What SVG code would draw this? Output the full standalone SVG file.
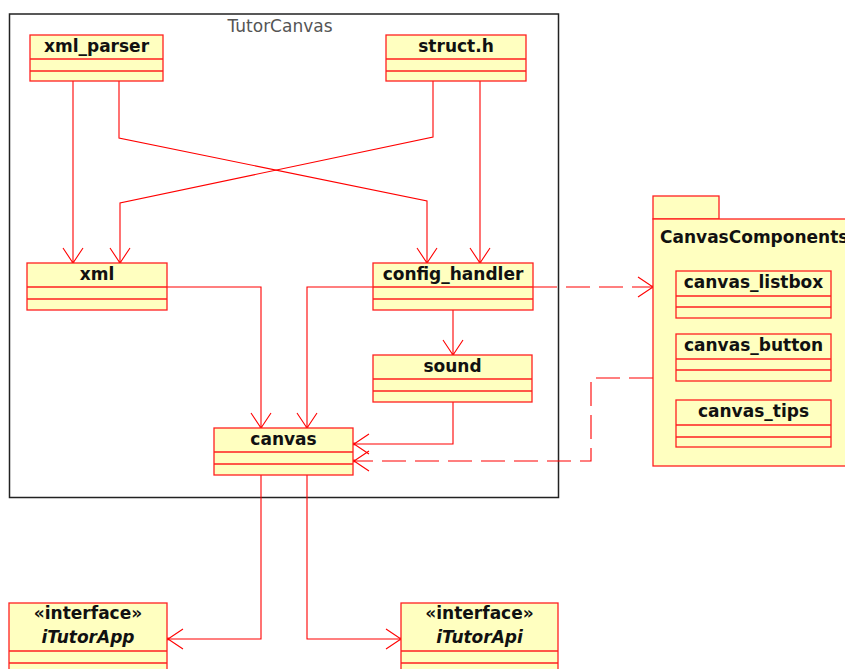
<svg xmlns="http://www.w3.org/2000/svg" width="845" height="669" viewBox="0 0 845 669">
  <style>
    .box { fill: #ffffc0; stroke: #ff2020; stroke-width: 1.3; }
    .sep { stroke: #ff2020; stroke-width: 1.3; fill: none; }
    .name { font-family: "DejaVu Sans", sans-serif; font-weight: bold; font-size: 17px; fill: #111; text-anchor: middle; }
    .ital { font-style: italic; }
    .frame { fill: none; stroke: #222; stroke-width: 1.5; }
    .frametitle { font-family: "DejaVu Sans", sans-serif; font-size: 17px; fill: #555; text-anchor: middle; }
    .edge { fill: none; stroke: #ff0000; stroke-width: 1.1; marker-end: url(#open); }
    .dash { stroke-dasharray: 24 9; }
  </style>
  <defs>
    <marker id="open" viewBox="-17 -12 19 24" markerWidth="19" markerHeight="24" refX="0" refY="0" orient="auto" markerUnits="userSpaceOnUse">
      <path d="M-15,-10 L0,0 L-15,10" fill="none" stroke="#ff0000" stroke-width="1.1" stroke-dasharray="none"/>
      <circle cx="0" cy="0" r="1.4" fill="#ff0000"/>
    </marker>
  </defs>

  <!-- TutorCanvas package frame -->
  <g id="TutorCanvas">
    <rect class="frame" x="9.5" y="14" width="549" height="483.5"/>
    <text class="frametitle" x="280" y="32">TutorCanvas</text>
  </g>

  <!-- connectors -->
  <g id="connectors">
    <path class="edge" d="M73,81 V263"/>
    <path class="edge" d="M119,81 V138 L427,201 V263"/>
    <path class="edge" d="M433,81 V137 L120,203 V263"/>
    <path class="edge" d="M480,81 V263"/>
    <path class="edge" d="M167,287 H261 V428"/>
    <path class="edge" d="M373,287 H307 V428"/>
    <path class="edge" d="M453,310 V355"/>
    <path class="edge" d="M453,402 V444 H354"/>
    <path class="edge dash" d="M533,287 H653"/>
    <path class="edge dash" d="M653,378 H591 V461 H354"/>
    <path class="edge" d="M261,475 V639 H168"/>
    <path class="edge" d="M307,475 V639 H401"/>
  </g>

  <g id="xml_parser">
    <rect class="box" x="30" y="35" width="133" height="46"/>
    <path class="sep" d="M30,59 H163 M30,71 H163"/>
    <text class="name" x="96.5" y="52">xml_parser</text>
  </g>

  <g id="struct_h">
    <rect class="box" x="386" y="35" width="140" height="46"/>
    <path class="sep" d="M386,59 H526 M386,71 H526"/>
    <text class="name" x="456" y="52">struct.h</text>
  </g>

  <g id="xml">
    <rect class="box" x="27" y="263" width="140" height="47"/>
    <path class="sep" d="M27,287 H167 M27,299 H167"/>
    <text class="name" x="97" y="280">xml</text>
  </g>

  <g id="config_handler">
    <rect class="box" x="373" y="263" width="160" height="47"/>
    <path class="sep" d="M373,287 H533 M373,299 H533"/>
    <text class="name" x="453" y="280">config_handler</text>
  </g>

  <g id="sound">
    <rect class="box" x="373" y="355" width="159" height="47"/>
    <path class="sep" d="M373,379 H532 M373,391 H532"/>
    <text class="name" x="452.5" y="372">sound</text>
  </g>

  <g id="canvas">
    <rect class="box" x="214" y="428" width="139" height="47"/>
    <path class="sep" d="M214,452 H353 M214,464 H353"/>
    <text class="name" x="283.5" y="445">canvas</text>
  </g>

  <!-- CanvasComponents package -->
  <g id="CanvasComponents">
    <rect class="box" x="653" y="196" width="66" height="23"/>
    <rect class="box" x="653" y="219" width="210" height="247"/>
    <text class="name" x="660" y="243" style="text-anchor:start">CanvasComponents</text>
  </g>

  <g id="canvas_listbox">
    <rect class="box" x="676" y="271" width="155" height="47"/>
    <path class="sep" d="M676,296 H831 M676,307 H831"/>
    <text class="name" x="753.5" y="288">canvas_listbox</text>
  </g>

  <g id="canvas_button">
    <rect class="box" x="676" y="334" width="155" height="47"/>
    <path class="sep" d="M676,359 H831 M676,370 H831"/>
    <text class="name" x="753.5" y="351">canvas_button</text>
  </g>

  <g id="canvas_tips">
    <rect class="box" x="676" y="400" width="155" height="47"/>
    <path class="sep" d="M676,425 H831 M676,437 H831"/>
    <text class="name" x="753.5" y="417">canvas_tips</text>
  </g>

  <g id="iTutorApp">
    <rect class="box" x="9" y="603" width="158" height="90"/>
    <path class="sep" d="M9,651 H167 M9,663 H167"/>
    <text class="name" x="88" y="619">«interface»</text>
    <text class="name ital" x="88" y="643">iTutorApp</text>
  </g>

  <g id="iTutorApi">
    <rect class="box" x="401" y="603" width="157" height="90"/>
    <path class="sep" d="M401,651 H558 M401,663 H558"/>
    <text class="name" x="479.5" y="619">«interface»</text>
    <text class="name ital" x="479.5" y="643">iTutorApi</text>
  </g>
</svg>
